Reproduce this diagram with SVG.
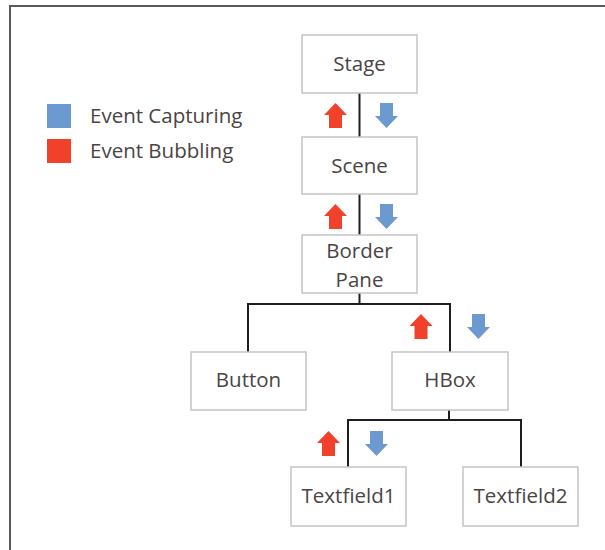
<svg xmlns="http://www.w3.org/2000/svg" width="605" height="550" viewBox="0 0 605 550">
<style>
.box{fill:#fff;stroke:#c4c4c4;stroke-width:1.5}
.lbl{font-family:"Open Sans","Noto Sans",sans-serif;font-size:20.5px;fill:#4a4444;text-anchor:middle}
.leg{font-family:"Open Sans","Noto Sans",sans-serif;font-size:20.5px;fill:#4a4444}
.con{fill:none;stroke:#1e1e1e;stroke-width:2}
.up{fill:#f2412b}
.dn{fill:#6b99d0}
</style>
<defs>
<path id="arrUp" d="M0,0 L11.5,12 L6.5,12 L6.5,25 L-6.5,25 L-6.5,12 L-11.5,12 Z"/>
<path id="arrDn" d="M-6.5,0 L6.5,0 L6.5,13 L11.5,13 L0,25 L-11.5,13 L-6.5,13 Z"/>
</defs>
<rect x="0" y="0" width="605" height="550" fill="#fff"/>
<rect x="10" y="6" width="610" height="570" fill="none" stroke="#5a5a5a" stroke-width="2"/>
<g id="legend">
<rect x="47" y="104" width="24" height="24" fill="#6b99d0"/>
<text class="leg" x="90" y="123">Event Capturing</text>
<rect x="47" y="139" width="24" height="24" fill="#f2412b"/>
<text class="leg" x="90" y="158">Event Bubbling</text>
</g>
<g id="connectors">
<path class="con" d="M359.5,93 V137"/>
<path class="con" d="M359.5,194 V235"/>
<path class="con" d="M359.5,293 V304 M248,304 H450 M248,303 V352 M450,303 V352"/>
<path class="con" d="M449,410 V420 M348,420 H521 M348,419 V467 M521,419 V467"/>
</g>
<g id="arrows">
<use href="#arrUp" class="up" x="335.5" y="103"/>
<use href="#arrDn" class="dn" x="386.5" y="103"/>
<use href="#arrUp" class="up" x="335.5" y="204"/>
<use href="#arrDn" class="dn" x="386.5" y="204"/>
<use href="#arrUp" class="up" x="421" y="314"/>
<use href="#arrDn" class="dn" x="478.5" y="314"/>
<use href="#arrUp" class="up" x="328.5" y="431"/>
<use href="#arrDn" class="dn" x="376.5" y="431"/>
</g>
<g id="stage"><rect class="box" x="302" y="35" width="115" height="58"/><text class="lbl" x="359.5" y="71">Stage</text></g>
<g id="scene"><rect class="box" x="302" y="137" width="115" height="57"/><text class="lbl" x="359.5" y="173">Scene</text></g>
<g id="borderpane"><rect class="box" x="302" y="235" width="115" height="58"/><text class="lbl" x="359.5" y="258">Border</text><text class="lbl" x="359.5" y="287">Pane</text></g>
<g id="button"><rect class="box" x="191" y="352" width="115" height="58"/><text class="lbl" x="248.5" y="387">Button</text></g>
<g id="hbox"><rect class="box" x="392" y="352" width="116" height="58"/><text class="lbl" x="450" y="387">HBox</text></g>
<g id="textfield1"><rect class="box" x="291" y="467" width="115" height="59"/><text class="lbl" x="348.5" y="503">Textfield1</text></g>
<g id="textfield2"><rect class="box" x="463" y="467" width="115" height="59"/><text class="lbl" x="520.5" y="503">Textfield2</text></g>
</svg>
